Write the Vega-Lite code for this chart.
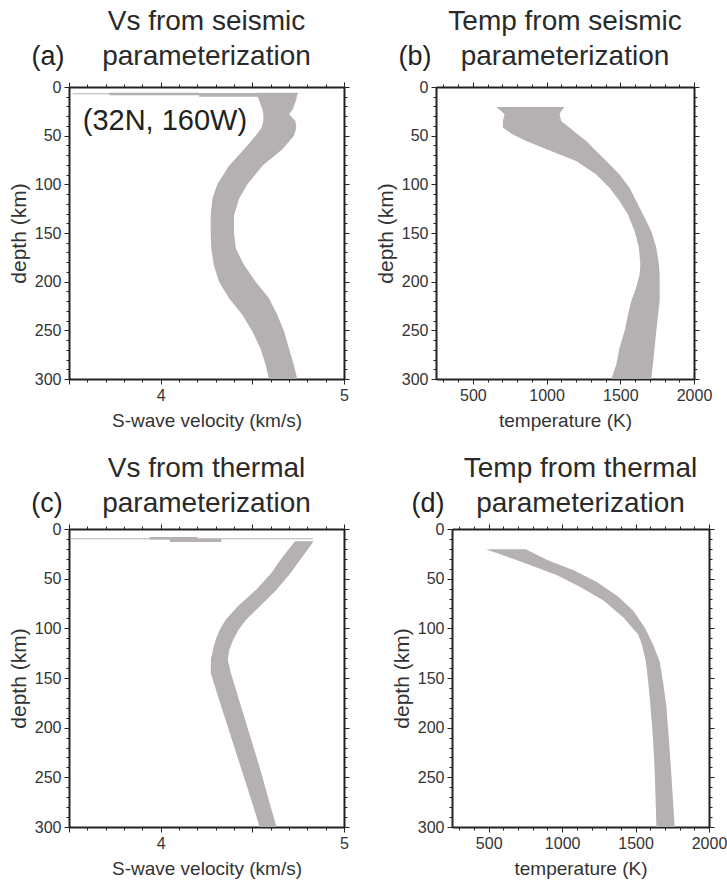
{
  "$schema": "https://vega.github.io/schema/vega-lite/v6.json",
  "background": "white",
  "padding": {"left": 8, "top": 8, "right": 5, "bottom": 5},
  "config": {
    "font": "Liberation Sans",
    "view": {"stroke": null},
    "axis": {
      "domain": true, "domainColor": "#222", "domainWidth": 2, "grid": false, "tickColor": "#222", "tickWidth": 1,
      "labelColor": "#333", "labelFontSize": 16, "labelFont": "Liberation Sans",
      "titleFontSize": 19, "titleFontWeight": "normal", "titleColor": "#333", "titleFont": "Liberation Sans",
      "labelOverlap": false, "labelFlush": false, "labelPadding": 3
    },
    "axisLeft": {"titleFontSize": 21},
    "title": {"fontSize": 28, "fontWeight": "normal", "color": "#2a2a2a", "lineHeight": 35, "anchor": "middle", "font": "Liberation Sans"}
  },
  "datasets": {
    "bandA": [
      {"depth": 6, "lo": 4.52, "hi": 4.745},
      {"depth": 13, "lo": 4.536, "hi": 4.74},
      {"depth": 23, "lo": 4.555, "hi": 4.72},
      {"depth": 28, "lo": 4.56, "hi": 4.7},
      {"depth": 35, "lo": 4.56, "hi": 4.735},
      {"depth": 42, "lo": 4.55, "hi": 4.74},
      {"depth": 50, "lo": 4.518, "hi": 4.727},
      {"depth": 64, "lo": 4.455, "hi": 4.664},
      {"depth": 81, "lo": 4.373, "hi": 4.555},
      {"depth": 100, "lo": 4.309, "hi": 4.473},
      {"depth": 115, "lo": 4.282, "hi": 4.427},
      {"depth": 132, "lo": 4.273, "hi": 4.4},
      {"depth": 150, "lo": 4.273, "hi": 4.4},
      {"depth": 166, "lo": 4.276, "hi": 4.41},
      {"depth": 183, "lo": 4.29, "hi": 4.455},
      {"depth": 200, "lo": 4.318, "hi": 4.518},
      {"depth": 217, "lo": 4.373, "hi": 4.591},
      {"depth": 234, "lo": 4.445, "hi": 4.636},
      {"depth": 251, "lo": 4.5, "hi": 4.673},
      {"depth": 269, "lo": 4.545, "hi": 4.7},
      {"depth": 286, "lo": 4.573, "hi": 4.727},
      {"depth": 300, "lo": 4.591, "hi": 4.745}
    ],
    "crustA": [
      {"lo": 3.52, "hi": 4.75, "top": 6.5, "bot": 7.5},
      {"lo": 3.72, "hi": 4.21, "top": 6, "bot": 8.5},
      {"lo": 4.21, "hi": 4.55, "top": 6.5, "bot": 10}
    ],
    "bandB": [
      {"depth": 20.6, "lo": 658, "hi": 1122},
      {"depth": 24.7, "lo": 692, "hi": 1099},
      {"depth": 28, "lo": 715, "hi": 1088},
      {"depth": 35, "lo": 704, "hi": 1099},
      {"depth": 41.8, "lo": 704, "hi": 1156},
      {"depth": 48.7, "lo": 771, "hi": 1212},
      {"depth": 55.5, "lo": 862, "hi": 1269},
      {"depth": 62.4, "lo": 975, "hi": 1314},
      {"depth": 69.3, "lo": 1088, "hi": 1360},
      {"depth": 76, "lo": 1201, "hi": 1405},
      {"depth": 90, "lo": 1337, "hi": 1495},
      {"depth": 103.5, "lo": 1427, "hi": 1563},
      {"depth": 117, "lo": 1495, "hi": 1608},
      {"depth": 131, "lo": 1552, "hi": 1654},
      {"depth": 148, "lo": 1597, "hi": 1710},
      {"depth": 165, "lo": 1626, "hi": 1744},
      {"depth": 182, "lo": 1636, "hi": 1762},
      {"depth": 193, "lo": 1631, "hi": 1767},
      {"depth": 206, "lo": 1608, "hi": 1767},
      {"depth": 220, "lo": 1574, "hi": 1767},
      {"depth": 234, "lo": 1552, "hi": 1756},
      {"depth": 251, "lo": 1529, "hi": 1744},
      {"depth": 268, "lo": 1495, "hi": 1733},
      {"depth": 285, "lo": 1473, "hi": 1721},
      {"depth": 300, "lo": 1439, "hi": 1710}
    ],
    "bandC": [
      {"depth": 12.4, "lo": 4.733, "hi": 4.834},
      {"depth": 20.8, "lo": 4.696, "hi": 4.801},
      {"depth": 30.9, "lo": 4.654, "hi": 4.761},
      {"depth": 44.3, "lo": 4.604, "hi": 4.709},
      {"depth": 61.1, "lo": 4.521, "hi": 4.632},
      {"depth": 77.9, "lo": 4.42, "hi": 4.54},
      {"depth": 91.3, "lo": 4.355, "hi": 4.466},
      {"depth": 101.4, "lo": 4.322, "hi": 4.425},
      {"depth": 111.4, "lo": 4.3, "hi": 4.396},
      {"depth": 121.5, "lo": 4.285, "hi": 4.374},
      {"depth": 131.6, "lo": 4.274, "hi": 4.366},
      {"depth": 145, "lo": 4.273, "hi": 4.383},
      {"depth": 178.5, "lo": 4.33, "hi": 4.438},
      {"depth": 212.1, "lo": 4.389, "hi": 4.494},
      {"depth": 245.7, "lo": 4.447, "hi": 4.549},
      {"depth": 279.2, "lo": 4.505, "hi": 4.599},
      {"depth": 300, "lo": 4.54, "hi": 4.632}
    ],
    "crustC": [
      {"lo": 3.51, "hi": 4.83, "top": 9.2, "bot": 10.2},
      {"lo": 3.94, "hi": 4.2, "top": 8, "bot": 10.5},
      {"lo": 4.05, "hi": 4.33, "top": 10, "bot": 13}
    ],
    "bandD": [
      {"depth": 20.4, "lo": 482, "hi": 752},
      {"depth": 24.5, "lo": 559, "hi": 806},
      {"depth": 31.3, "lo": 689, "hi": 899},
      {"depth": 36.4, "lo": 786, "hi": 989},
      {"depth": 41.5, "lo": 876, "hi": 1079},
      {"depth": 46.6, "lo": 966, "hi": 1146},
      {"depth": 53.4, "lo": 1056, "hi": 1236},
      {"depth": 58.5, "lo": 1124, "hi": 1286},
      {"depth": 67, "lo": 1223, "hi": 1372},
      {"depth": 72.1, "lo": 1282, "hi": 1410},
      {"depth": 82.3, "lo": 1363, "hi": 1484},
      {"depth": 89.1, "lo": 1417, "hi": 1516},
      {"depth": 99.3, "lo": 1477, "hi": 1563},
      {"depth": 106.1, "lo": 1518, "hi": 1586},
      {"depth": 116.3, "lo": 1543, "hi": 1619},
      {"depth": 133.3, "lo": 1570, "hi": 1664},
      {"depth": 153.7, "lo": 1586, "hi": 1687},
      {"depth": 177.5, "lo": 1601, "hi": 1709},
      {"depth": 211.5, "lo": 1619, "hi": 1727},
      {"depth": 245.6, "lo": 1631, "hi": 1743},
      {"depth": 300, "lo": 1642, "hi": 1766}
    ]
  },
  "spacing": 24,
  "vconcat": [
    {
      "spacing": 25,
      "hconcat": [
        {
          "width": 275, "height": 292,
          "title": {"text": ["Vs from seismic", "parameterization"], "offset": -28},
          "resolve": {"axis": {"x": "independent", "y": "independent"}},
          "layer": [
            {
              "data": {"name": "bandA"},
              "mark": {"type": "area", "orient": "horizontal", "color": "#b5b0b1"},
              "encoding": {
                "y": {"field": "depth", "type": "quantitative", "scale": {"domain": [0, 300], "reverse": true, "nice": false, "zero": false},
                  "axis": {"orient": "left", "title": "depth (km)", "titlePadding": 5, "values": [0,10,20,30,40,50,60,70,80,90,100,110,120,130,140,150,160,170,180,190,200,210,220,230,240,250,260,270,280,290,300],
                    "labelExpr": "datum.value % 50 === 0 ? format(datum.value, 'd') : ''",
                    "tickSize": {"condition": {"test": "datum.value % 50 === 0", "value": 5}, "value": 3}}},
                "x": {"field": "lo", "type": "quantitative", "scale": {"domain": [3.5, 5], "nice": false, "zero": false},
                  "axis": {"orient": "bottom", "title": "S-wave velocity (km/s)", "titlePadding": 8, "values": [3.5,3.6,3.7,3.8,3.9,4,4.1,4.2,4.3,4.4,4.5,4.6,4.7,4.8,4.9,5],
                    "labelExpr": "datum.value === 4 || datum.value === 5 ? format(datum.value, 'd') : ''",
                    "tickSize": {"condition": {"test": "datum.value === 3.5 || datum.value === 4 || datum.value === 4.5 || datum.value === 5", "value": 5}, "value": 3}}},
                "x2": {"field": "hi"}
              }
            },
            {
              "data": {"name": "crustA"},
              "mark": {"type": "rect", "color": "#b5b0b1"},
              "encoding": {
                "x": {"field": "lo", "type": "quantitative", "axis": null},
                "x2": {"field": "hi"},
                "y": {"field": "top", "type": "quantitative", "axis": null},
                "y2": {"field": "bot"}
              }
            },
            {
              "data": {"name": "bandA"},
              "mark": {"type": "point", "opacity": 0},
              "encoding": {
                "y": {"field": "depth", "type": "quantitative",
                  "axis": {"orient": "right", "title": null, "labels": false, "values": [0,10,20,30,40,50,60,70,80,90,100,110,120,130,140,150,160,170,180,190,200,210,220,230,240,250,260,270,280,290,300],
                    "tickSize": {"condition": {"test": "datum.value % 50 === 0", "value": 5}, "value": 3}}},
                "x": {"field": "lo", "type": "quantitative",
                  "axis": {"orient": "top", "title": null, "labels": false, "values": [3.5,3.6,3.7,3.8,3.9,4,4.1,4.2,4.3,4.4,4.5,4.6,4.7,4.8,4.9,5],
                    "tickSize": {"condition": {"test": "datum.value === 3.5 || datum.value === 4 || datum.value === 4.5 || datum.value === 5", "value": 5}, "value": 3}}}
              }
            },
            {
              "data": {"values": [{"label": "(32N, 160W)"}]},
              "mark": {"type": "text", "align": "left", "baseline": "alphabetic", "fontSize": 29, "color": "#222"},
              "encoding": {
                "x": {"datum": 3.575, "type": "quantitative", "axis": null},
                "y": {"datum": 44, "type": "quantitative", "axis": null},
                "text": {"field": "label"}
              }
            },
            {
              "data": {"values": [{"label": "(a)"}]},
              "mark": {"type": "text", "align": "center", "baseline": "alphabetic", "fontSize": 27, "color": "#222"},
              "encoding": {
                "x": {"datum": 3.385, "type": "quantitative", "axis": null},
                "y": {"datum": -22.6, "type": "quantitative", "axis": null},
                "text": {"field": "label"}
              }
            }
          ]
        },
        {
          "width": 258, "height": 292,
          "title": {"text": ["Temp from seismic", "parameterization"], "offset": -28},
          "resolve": {"axis": {"x": "independent", "y": "independent"}},
          "layer": [
            {
              "data": {"name": "bandB"},
              "mark": {"type": "area", "orient": "horizontal", "color": "#b5b0b1"},
              "encoding": {
                "y": {"field": "depth", "type": "quantitative", "scale": {"domain": [0, 300], "reverse": true, "nice": false, "zero": false},
                  "axis": {"orient": "left", "title": "depth (km)", "titlePadding": 5, "values": [0,10,20,30,40,50,60,70,80,90,100,110,120,130,140,150,160,170,180,190,200,210,220,230,240,250,260,270,280,290,300],
                    "labelExpr": "datum.value % 50 === 0 ? format(datum.value, 'd') : ''",
                    "tickSize": {"condition": {"test": "datum.value % 50 === 0", "value": 5}, "value": 3}}},
                "x": {"field": "lo", "type": "quantitative", "scale": {"domain": [250, 2000], "nice": false, "zero": false},
                  "axis": {"orient": "bottom", "title": "temperature (K)", "titlePadding": 8, "values": [300,400,500,600,700,800,900,1000,1100,1200,1300,1400,1500,1600,1700,1800,1900,2000],
                    "labelExpr": "datum.value % 500 === 0 ? format(datum.value, 'd') : ''",
                    "tickSize": {"condition": {"test": "datum.value % 500 === 0", "value": 5}, "value": 3}}},
                "x2": {"field": "hi"}
              }
            },
            {
              "data": {"name": "bandB"},
              "mark": {"type": "point", "opacity": 0},
              "encoding": {
                "y": {"field": "depth", "type": "quantitative",
                  "axis": {"orient": "right", "title": null, "labels": false, "values": [0,10,20,30,40,50,60,70,80,90,100,110,120,130,140,150,160,170,180,190,200,210,220,230,240,250,260,270,280,290,300],
                    "tickSize": {"condition": {"test": "datum.value % 50 === 0", "value": 5}, "value": 3}}},
                "x": {"field": "lo", "type": "quantitative",
                  "axis": {"orient": "top", "title": null, "labels": false, "values": [300,400,500,600,700,800,900,1000,1100,1200,1300,1400,1500,1600,1700,1800,1900,2000],
                    "tickSize": {"condition": {"test": "datum.value % 500 === 0", "value": 5}, "value": 3}}}
              }
            },
            {
              "data": {"values": [{"label": "(b)"}]},
              "mark": {"type": "text", "align": "center", "baseline": "alphabetic", "fontSize": 27, "color": "#222"},
              "encoding": {
                "x": {"datum": 108, "type": "quantitative", "axis": null},
                "y": {"datum": -22.6, "type": "quantitative", "axis": null},
                "text": {"field": "label"}
              }
            }
          ]
        }
      ]
    },
    {
      "spacing": 41,
      "hconcat": [
        {
          "width": 275, "height": 298,
          "title": {"text": ["Vs from thermal", "parameterization"], "offset": -28},
          "resolve": {"axis": {"x": "independent", "y": "independent"}},
          "layer": [
            {
              "data": {"name": "bandC"},
              "mark": {"type": "area", "orient": "horizontal", "color": "#b5b0b1"},
              "encoding": {
                "y": {"field": "depth", "type": "quantitative", "scale": {"domain": [0, 300], "reverse": true, "nice": false, "zero": false},
                  "axis": {"orient": "left", "title": "depth (km)", "titlePadding": 5, "values": [0,10,20,30,40,50,60,70,80,90,100,110,120,130,140,150,160,170,180,190,200,210,220,230,240,250,260,270,280,290,300],
                    "labelExpr": "datum.value % 50 === 0 ? format(datum.value, 'd') : ''",
                    "tickSize": {"condition": {"test": "datum.value % 50 === 0", "value": 5}, "value": 3}}},
                "x": {"field": "lo", "type": "quantitative", "scale": {"domain": [3.5, 5], "nice": false, "zero": false},
                  "axis": {"orient": "bottom", "title": "S-wave velocity (km/s)", "titlePadding": 8, "values": [3.5,3.6,3.7,3.8,3.9,4,4.1,4.2,4.3,4.4,4.5,4.6,4.7,4.8,4.9,5],
                    "labelExpr": "datum.value === 4 || datum.value === 5 ? format(datum.value, 'd') : ''",
                    "tickSize": {"condition": {"test": "datum.value === 3.5 || datum.value === 4 || datum.value === 4.5 || datum.value === 5", "value": 5}, "value": 3}}},
                "x2": {"field": "hi"}
              }
            },
            {
              "data": {"name": "crustC"},
              "mark": {"type": "rect", "color": "#b5b0b1"},
              "encoding": {
                "x": {"field": "lo", "type": "quantitative", "axis": null},
                "x2": {"field": "hi"},
                "y": {"field": "top", "type": "quantitative", "axis": null},
                "y2": {"field": "bot"}
              }
            },
            {
              "data": {"name": "bandC"},
              "mark": {"type": "point", "opacity": 0},
              "encoding": {
                "y": {"field": "depth", "type": "quantitative",
                  "axis": {"orient": "right", "title": null, "labels": false, "values": [0,10,20,30,40,50,60,70,80,90,100,110,120,130,140,150,160,170,180,190,200,210,220,230,240,250,260,270,280,290,300],
                    "tickSize": {"condition": {"test": "datum.value % 50 === 0", "value": 5}, "value": 3}}},
                "x": {"field": "lo", "type": "quantitative",
                  "axis": {"orient": "top", "title": null, "labels": false, "values": [3.5,3.6,3.7,3.8,3.9,4,4.1,4.2,4.3,4.4,4.5,4.6,4.7,4.8,4.9,5],
                    "tickSize": {"condition": {"test": "datum.value === 3.5 || datum.value === 4 || datum.value === 4.5 || datum.value === 5", "value": 5}, "value": 3}}}
              }
            },
            {
              "data": {"values": [{"label": "(c)"}]},
              "mark": {"type": "text", "align": "center", "baseline": "alphabetic", "fontSize": 27, "color": "#222"},
              "encoding": {
                "x": {"datum": 3.38, "type": "quantitative", "axis": null},
                "y": {"datum": -17.4, "type": "quantitative", "axis": null},
                "text": {"field": "label"}
              }
            }
          ]
        },
        {
          "width": 257, "height": 298,
          "title": {"text": ["Temp from thermal", "parameterization"], "offset": -28},
          "resolve": {"axis": {"x": "independent", "y": "independent"}},
          "layer": [
            {
              "data": {"name": "bandD"},
              "mark": {"type": "area", "orient": "horizontal", "color": "#b5b0b1"},
              "encoding": {
                "y": {"field": "depth", "type": "quantitative", "scale": {"domain": [0, 300], "reverse": true, "nice": false, "zero": false},
                  "axis": {"orient": "left", "title": "depth (km)", "titlePadding": 5, "values": [0,10,20,30,40,50,60,70,80,90,100,110,120,130,140,150,160,170,180,190,200,210,220,230,240,250,260,270,280,290,300],
                    "labelExpr": "datum.value % 50 === 0 ? format(datum.value, 'd') : ''",
                    "tickSize": {"condition": {"test": "datum.value % 50 === 0", "value": 5}, "value": 3}}},
                "x": {"field": "lo", "type": "quantitative", "scale": {"domain": [250, 2000], "nice": false, "zero": false},
                  "axis": {"orient": "bottom", "title": "temperature (K)", "titlePadding": 8, "values": [300,400,500,600,700,800,900,1000,1100,1200,1300,1400,1500,1600,1700,1800,1900,2000],
                    "labelExpr": "datum.value % 500 === 0 ? format(datum.value, 'd') : ''",
                    "tickSize": {"condition": {"test": "datum.value % 500 === 0", "value": 5}, "value": 3}}},
                "x2": {"field": "hi"}
              }
            },
            {
              "data": {"name": "bandD"},
              "mark": {"type": "point", "opacity": 0},
              "encoding": {
                "y": {"field": "depth", "type": "quantitative",
                  "axis": {"orient": "right", "title": null, "labels": false, "values": [0,10,20,30,40,50,60,70,80,90,100,110,120,130,140,150,160,170,180,190,200,210,220,230,240,250,260,270,280,290,300],
                    "tickSize": {"condition": {"test": "datum.value % 50 === 0", "value": 5}, "value": 3}}},
                "x": {"field": "lo", "type": "quantitative",
                  "axis": {"orient": "top", "title": null, "labels": false, "values": [300,400,500,600,700,800,900,1000,1100,1200,1300,1400,1500,1600,1700,1800,1900,2000],
                    "tickSize": {"condition": {"test": "datum.value % 500 === 0", "value": 5}, "value": 3}}}
              }
            },
            {
              "data": {"values": [{"label": "(d)"}]},
              "mark": {"type": "text", "align": "center", "baseline": "alphabetic", "fontSize": 27, "color": "#222"},
              "encoding": {
                "x": {"datum": 87, "type": "quantitative", "axis": null},
                "y": {"datum": -17.4, "type": "quantitative", "axis": null},
                "text": {"field": "label"}
              }
            }
          ]
        }
      ]
    }
  ]
}
